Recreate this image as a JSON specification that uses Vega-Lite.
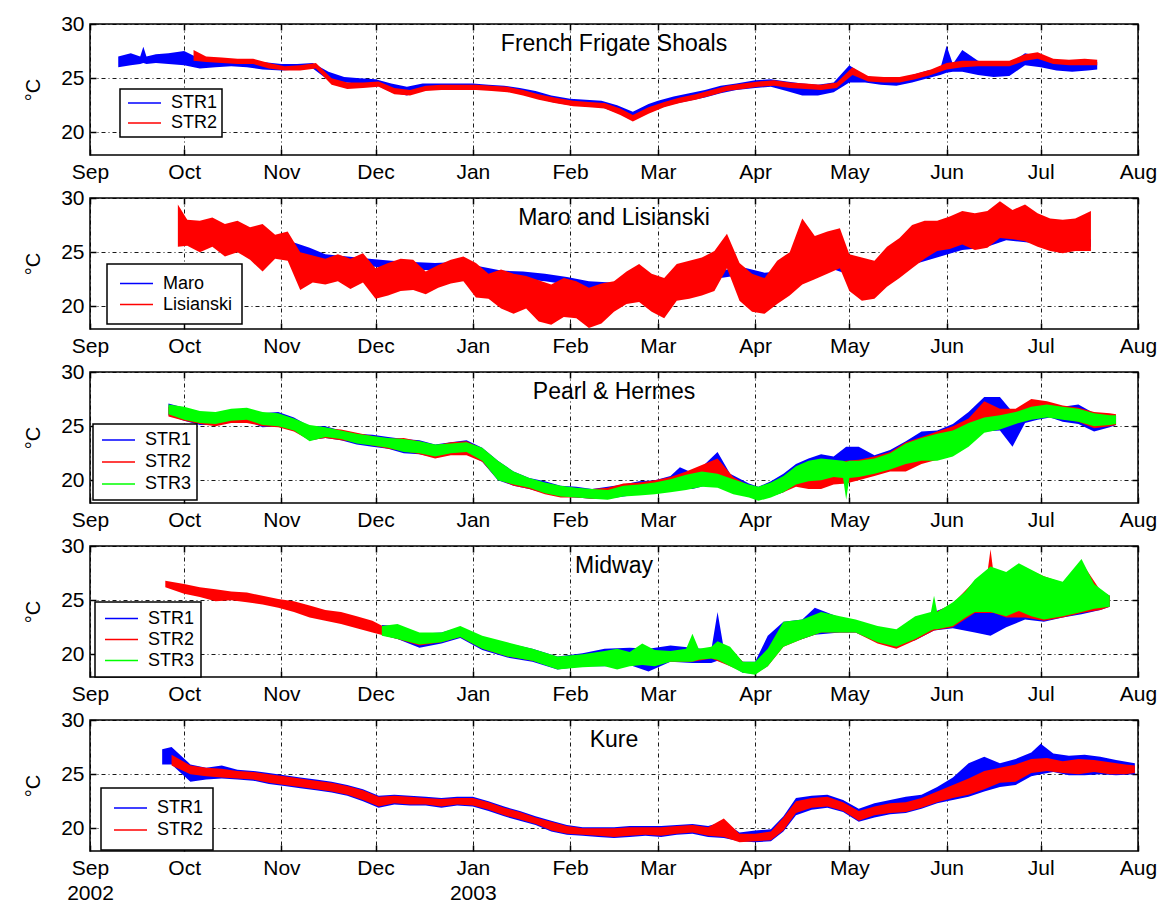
{
  "$schema": "https://vega.github.io/schema/vega-lite/v6.json",
  "padding": {"left": 22, "top": 12, "right": 5, "bottom": 5},
  "background": "white",
  "spacing": 43,
  "bounds": "flush",
  "resolve": {"scale": {"color": "independent"}, "legend": {"color": "independent"}},
  "datasets": {
    "ffs": [
      {"s":"STR1","d":"2002-09-10","lo":26.0,"hi":27.0},
      {"s":"STR1","d":"2002-09-14","lo":26.2,"hi":27.3},
      {"s":"STR1","d":"2002-09-17","lo":26.3,"hi":27.0},
      {"s":"STR1","d":"2002-09-18","lo":26.4,"hi":27.9},
      {"s":"STR1","d":"2002-09-19","lo":26.3,"hi":27.0},
      {"s":"STR1","d":"2002-09-22","lo":26.4,"hi":27.2},
      {"s":"STR1","d":"2002-09-26","lo":26.3,"hi":27.3},
      {"s":"STR1","d":"2002-10-01","lo":26.2,"hi":27.5},
      {"s":"STR1","d":"2002-10-06","lo":25.9,"hi":26.8},
      {"s":"STR1","d":"2002-10-11","lo":26.0,"hi":26.8},
      {"s":"STR1","d":"2002-10-16","lo":26.1,"hi":26.7},
      {"s":"STR1","d":"2002-10-21","lo":26.0,"hi":26.6},
      {"s":"STR1","d":"2002-10-26","lo":25.8,"hi":26.5},
      {"s":"STR1","d":"2002-11-01","lo":25.7,"hi":26.3},
      {"s":"STR1","d":"2002-11-06","lo":25.8,"hi":26.3},
      {"s":"STR1","d":"2002-11-11","lo":25.9,"hi":26.4},
      {"s":"STR1","d":"2002-11-16","lo":24.8,"hi":25.6},
      {"s":"STR1","d":"2002-11-21","lo":24.6,"hi":25.1},
      {"s":"STR1","d":"2002-11-26","lo":24.5,"hi":25.0},
      {"s":"STR1","d":"2002-12-01","lo":24.4,"hi":24.9},
      {"s":"STR1","d":"2002-12-06","lo":23.7,"hi":24.5},
      {"s":"STR1","d":"2002-12-11","lo":23.4,"hi":24.2},
      {"s":"STR1","d":"2002-12-16","lo":23.9,"hi":24.5},
      {"s":"STR1","d":"2002-12-21","lo":24.0,"hi":24.5},
      {"s":"STR1","d":"2002-12-26","lo":24.0,"hi":24.5},
      {"s":"STR1","d":"2003-01-01","lo":24.0,"hi":24.5},
      {"s":"STR1","d":"2003-01-06","lo":23.9,"hi":24.4},
      {"s":"STR1","d":"2003-01-11","lo":23.8,"hi":24.3},
      {"s":"STR1","d":"2003-01-16","lo":23.6,"hi":24.1},
      {"s":"STR1","d":"2003-01-21","lo":23.2,"hi":23.8},
      {"s":"STR1","d":"2003-01-26","lo":22.8,"hi":23.4},
      {"s":"STR1","d":"2003-02-01","lo":22.5,"hi":23.1},
      {"s":"STR1","d":"2003-02-06","lo":22.4,"hi":23.0},
      {"s":"STR1","d":"2003-02-11","lo":22.3,"hi":22.9},
      {"s":"STR1","d":"2003-02-16","lo":21.8,"hi":22.5},
      {"s":"STR1","d":"2003-02-21","lo":21.2,"hi":21.9},
      {"s":"STR1","d":"2003-02-26","lo":21.8,"hi":22.6},
      {"s":"STR1","d":"2003-03-01","lo":22.2,"hi":22.9},
      {"s":"STR1","d":"2003-03-06","lo":22.6,"hi":23.3},
      {"s":"STR1","d":"2003-03-11","lo":22.9,"hi":23.6},
      {"s":"STR1","d":"2003-03-16","lo":23.2,"hi":23.9},
      {"s":"STR1","d":"2003-03-21","lo":23.6,"hi":24.3},
      {"s":"STR1","d":"2003-03-26","lo":23.9,"hi":24.5},
      {"s":"STR1","d":"2003-04-01","lo":24.1,"hi":24.8},
      {"s":"STR1","d":"2003-04-06","lo":24.2,"hi":24.9},
      {"s":"STR1","d":"2003-04-11","lo":23.8,"hi":24.7},
      {"s":"STR1","d":"2003-04-16","lo":23.4,"hi":24.5},
      {"s":"STR1","d":"2003-04-21","lo":23.4,"hi":24.4},
      {"s":"STR1","d":"2003-04-26","lo":23.7,"hi":24.6},
      {"s":"STR1","d":"2003-05-01","lo":24.6,"hi":26.2},
      {"s":"STR1","d":"2003-05-06","lo":24.6,"hi":25.2},
      {"s":"STR1","d":"2003-05-11","lo":24.4,"hi":25.0},
      {"s":"STR1","d":"2003-05-16","lo":24.3,"hi":24.9},
      {"s":"STR1","d":"2003-05-21","lo":24.6,"hi":25.3},
      {"s":"STR1","d":"2003-05-26","lo":25.0,"hi":25.7},
      {"s":"STR1","d":"2003-05-30","lo":25.3,"hi":25.9},
      {"s":"STR1","d":"2003-06-01","lo":25.5,"hi":28.0},
      {"s":"STR1","d":"2003-06-03","lo":25.6,"hi":26.3},
      {"s":"STR1","d":"2003-06-06","lo":25.6,"hi":27.6},
      {"s":"STR1","d":"2003-06-11","lo":25.3,"hi":26.6},
      {"s":"STR1","d":"2003-06-16","lo":25.1,"hi":26.3},
      {"s":"STR1","d":"2003-06-21","lo":25.2,"hi":26.3},
      {"s":"STR1","d":"2003-06-26","lo":26.2,"hi":27.3},
      {"s":"STR1","d":"2003-07-01","lo":26.0,"hi":27.0},
      {"s":"STR1","d":"2003-07-06","lo":25.7,"hi":26.5},
      {"s":"STR1","d":"2003-07-11","lo":25.6,"hi":26.6},
      {"s":"STR1","d":"2003-07-16","lo":25.7,"hi":26.6},
      {"s":"STR1","d":"2003-07-19","lo":25.8,"hi":26.5},
      {"s":"STR2","d":"2002-10-04","lo":26.6,"hi":27.6},
      {"s":"STR2","d":"2002-10-08","lo":26.5,"hi":27.0},
      {"s":"STR2","d":"2002-10-13","lo":26.4,"hi":26.9},
      {"s":"STR2","d":"2002-10-18","lo":26.3,"hi":26.8},
      {"s":"STR2","d":"2002-10-23","lo":26.3,"hi":26.8},
      {"s":"STR2","d":"2002-10-28","lo":25.9,"hi":26.4},
      {"s":"STR2","d":"2002-11-02","lo":25.7,"hi":26.1},
      {"s":"STR2","d":"2002-11-07","lo":25.7,"hi":26.2},
      {"s":"STR2","d":"2002-11-12","lo":25.9,"hi":26.4},
      {"s":"STR2","d":"2002-11-17","lo":24.4,"hi":25.0},
      {"s":"STR2","d":"2002-11-22","lo":24.0,"hi":24.6},
      {"s":"STR2","d":"2002-11-27","lo":24.1,"hi":24.6},
      {"s":"STR2","d":"2002-12-02","lo":24.2,"hi":24.7},
      {"s":"STR2","d":"2002-12-07","lo":23.5,"hi":24.1},
      {"s":"STR2","d":"2002-12-12","lo":23.4,"hi":23.9},
      {"s":"STR2","d":"2002-12-17","lo":23.8,"hi":24.3},
      {"s":"STR2","d":"2002-12-22","lo":23.9,"hi":24.4},
      {"s":"STR2","d":"2002-12-27","lo":23.9,"hi":24.4},
      {"s":"STR2","d":"2003-01-02","lo":23.9,"hi":24.4},
      {"s":"STR2","d":"2003-01-07","lo":23.8,"hi":24.3},
      {"s":"STR2","d":"2003-01-12","lo":23.7,"hi":24.2},
      {"s":"STR2","d":"2003-01-17","lo":23.4,"hi":23.9},
      {"s":"STR2","d":"2003-01-22","lo":23.0,"hi":23.5},
      {"s":"STR2","d":"2003-01-27","lo":22.7,"hi":23.2},
      {"s":"STR2","d":"2003-02-02","lo":22.4,"hi":22.9},
      {"s":"STR2","d":"2003-02-07","lo":22.3,"hi":22.8},
      {"s":"STR2","d":"2003-02-12","lo":22.2,"hi":22.7},
      {"s":"STR2","d":"2003-02-17","lo":21.6,"hi":22.2},
      {"s":"STR2","d":"2003-02-21","lo":21.0,"hi":21.6},
      {"s":"STR2","d":"2003-02-26","lo":21.7,"hi":22.3},
      {"s":"STR2","d":"2003-03-03","lo":22.3,"hi":22.8},
      {"s":"STR2","d":"2003-03-08","lo":22.7,"hi":23.2},
      {"s":"STR2","d":"2003-03-13","lo":23.0,"hi":23.5},
      {"s":"STR2","d":"2003-03-18","lo":23.4,"hi":23.9},
      {"s":"STR2","d":"2003-03-23","lo":23.8,"hi":24.3},
      {"s":"STR2","d":"2003-03-28","lo":24.0,"hi":24.5},
      {"s":"STR2","d":"2003-04-02","lo":24.2,"hi":24.7},
      {"s":"STR2","d":"2003-04-07","lo":24.3,"hi":24.8},
      {"s":"STR2","d":"2003-04-12","lo":24.1,"hi":24.6},
      {"s":"STR2","d":"2003-04-17","lo":24.0,"hi":24.5},
      {"s":"STR2","d":"2003-04-22","lo":23.9,"hi":24.4},
      {"s":"STR2","d":"2003-04-27","lo":24.1,"hi":24.6},
      {"s":"STR2","d":"2003-05-02","lo":25.3,"hi":26.0},
      {"s":"STR2","d":"2003-05-07","lo":24.7,"hi":25.2},
      {"s":"STR2","d":"2003-05-12","lo":24.6,"hi":25.1},
      {"s":"STR2","d":"2003-05-17","lo":24.6,"hi":25.1},
      {"s":"STR2","d":"2003-05-22","lo":24.9,"hi":25.4},
      {"s":"STR2","d":"2003-05-27","lo":25.3,"hi":25.8},
      {"s":"STR2","d":"2003-06-01","lo":25.8,"hi":26.4},
      {"s":"STR2","d":"2003-06-06","lo":26.0,"hi":26.6},
      {"s":"STR2","d":"2003-06-11","lo":26.1,"hi":26.6},
      {"s":"STR2","d":"2003-06-16","lo":26.1,"hi":26.6},
      {"s":"STR2","d":"2003-06-21","lo":26.1,"hi":26.6},
      {"s":"STR2","d":"2003-06-26","lo":26.6,"hi":27.2},
      {"s":"STR2","d":"2003-06-30","lo":26.8,"hi":27.4},
      {"s":"STR2","d":"2003-07-05","lo":26.3,"hi":26.8},
      {"s":"STR2","d":"2003-07-10","lo":26.2,"hi":26.7},
      {"s":"STR2","d":"2003-07-15","lo":26.2,"hi":26.8},
      {"s":"STR2","d":"2003-07-19","lo":26.2,"hi":26.7}
    ],
    "mal": [
      {"s":"Maro","d":"2002-10-01","lo":26.8,"hi":27.6},
      {"s":"Maro","d":"2002-10-08","lo":26.6,"hi":27.3},
      {"s":"Maro","d":"2002-10-15","lo":26.2,"hi":27.0},
      {"s":"Maro","d":"2002-10-22","lo":25.9,"hi":26.7},
      {"s":"Maro","d":"2002-10-29","lo":25.6,"hi":26.4},
      {"s":"Maro","d":"2002-11-05","lo":25.2,"hi":25.9},
      {"s":"Maro","d":"2002-11-10","lo":24.6,"hi":25.4},
      {"s":"Maro","d":"2002-11-15","lo":24.0,"hi":24.8},
      {"s":"Maro","d":"2002-11-22","lo":23.9,"hi":24.6},
      {"s":"Maro","d":"2002-11-29","lo":23.7,"hi":24.4},
      {"s":"Maro","d":"2002-12-06","lo":23.5,"hi":24.2},
      {"s":"Maro","d":"2002-12-13","lo":23.4,"hi":24.1},
      {"s":"Maro","d":"2002-12-20","lo":23.3,"hi":24.0},
      {"s":"Maro","d":"2002-12-27","lo":23.4,"hi":24.1},
      {"s":"Maro","d":"2003-01-03","lo":23.0,"hi":23.7},
      {"s":"Maro","d":"2003-01-10","lo":22.6,"hi":23.3},
      {"s":"Maro","d":"2003-01-17","lo":22.5,"hi":23.2},
      {"s":"Maro","d":"2003-01-24","lo":22.3,"hi":23.0},
      {"s":"Maro","d":"2003-01-31","lo":22.0,"hi":22.7},
      {"s":"Maro","d":"2003-02-07","lo":21.6,"hi":22.3},
      {"s":"Maro","d":"2003-02-14","lo":21.5,"hi":22.2},
      {"s":"Maro","d":"2003-02-21","lo":21.7,"hi":22.5},
      {"s":"Maro","d":"2003-02-28","lo":21.9,"hi":22.6},
      {"s":"Maro","d":"2003-03-07","lo":21.9,"hi":22.6},
      {"s":"Maro","d":"2003-03-14","lo":22.1,"hi":22.8},
      {"s":"Maro","d":"2003-03-21","lo":22.6,"hi":23.3},
      {"s":"Maro","d":"2003-03-28","lo":22.9,"hi":23.6},
      {"s":"Maro","d":"2003-04-04","lo":22.4,"hi":23.1},
      {"s":"Maro","d":"2003-04-11","lo":22.6,"hi":23.3},
      {"s":"Maro","d":"2003-04-18","lo":23.0,"hi":23.7},
      {"s":"Maro","d":"2003-04-25","lo":23.5,"hi":24.2},
      {"s":"Maro","d":"2003-05-02","lo":22.8,"hi":23.5},
      {"s":"Maro","d":"2003-05-09","lo":22.6,"hi":23.3},
      {"s":"Maro","d":"2003-05-16","lo":23.3,"hi":24.0},
      {"s":"Maro","d":"2003-05-23","lo":24.0,"hi":24.7},
      {"s":"Maro","d":"2003-05-30","lo":24.6,"hi":25.3},
      {"s":"Maro","d":"2003-06-06","lo":25.2,"hi":25.9},
      {"s":"Maro","d":"2003-06-13","lo":25.4,"hi":26.1},
      {"s":"Maro","d":"2003-06-20","lo":26.1,"hi":26.9},
      {"s":"Maro","d":"2003-06-27","lo":25.9,"hi":26.6},
      {"s":"Maro","d":"2003-07-04","lo":25.6,"hi":26.3},
      {"s":"Maro","d":"2003-07-11","lo":25.5,"hi":26.2},
      {"s":"Maro","d":"2003-07-17","lo":25.5,"hi":26.2},
      {"s":"Lisianski","d":"2002-09-29","lo":25.5,"hi":29.4},
      {"s":"Lisianski","d":"2002-10-02","lo":25.6,"hi":28.0},
      {"s":"Lisianski","d":"2002-10-06","lo":25.0,"hi":27.9},
      {"s":"Lisianski","d":"2002-10-10","lo":25.5,"hi":28.2},
      {"s":"Lisianski","d":"2002-10-14","lo":24.6,"hi":27.6},
      {"s":"Lisianski","d":"2002-10-18","lo":25.0,"hi":27.9},
      {"s":"Lisianski","d":"2002-10-22","lo":24.3,"hi":27.3},
      {"s":"Lisianski","d":"2002-10-26","lo":23.2,"hi":27.6},
      {"s":"Lisianski","d":"2002-10-30","lo":24.4,"hi":26.6},
      {"s":"Lisianski","d":"2002-11-03","lo":24.2,"hi":26.9},
      {"s":"Lisianski","d":"2002-11-07","lo":21.5,"hi":25.0},
      {"s":"Lisianski","d":"2002-11-11","lo":22.2,"hi":24.7},
      {"s":"Lisianski","d":"2002-11-15","lo":22.0,"hi":24.4},
      {"s":"Lisianski","d":"2002-11-19","lo":22.3,"hi":24.8},
      {"s":"Lisianski","d":"2002-11-23","lo":21.6,"hi":24.4},
      {"s":"Lisianski","d":"2002-11-27","lo":22.2,"hi":24.9},
      {"s":"Lisianski","d":"2002-12-01","lo":20.7,"hi":23.5},
      {"s":"Lisianski","d":"2002-12-05","lo":21.0,"hi":24.0},
      {"s":"Lisianski","d":"2002-12-09","lo":21.4,"hi":24.4},
      {"s":"Lisianski","d":"2002-12-13","lo":21.5,"hi":24.3},
      {"s":"Lisianski","d":"2002-12-17","lo":21.1,"hi":23.2},
      {"s":"Lisianski","d":"2002-12-21","lo":21.7,"hi":23.8},
      {"s":"Lisianski","d":"2002-12-25","lo":22.1,"hi":24.3},
      {"s":"Lisianski","d":"2002-12-29","lo":22.3,"hi":24.6},
      {"s":"Lisianski","d":"2003-01-02","lo":20.8,"hi":24.0},
      {"s":"Lisianski","d":"2003-01-06","lo":20.7,"hi":23.0},
      {"s":"Lisianski","d":"2003-01-10","lo":19.8,"hi":23.4},
      {"s":"Lisianski","d":"2003-01-14","lo":19.3,"hi":23.0},
      {"s":"Lisianski","d":"2003-01-18","lo":19.8,"hi":22.8},
      {"s":"Lisianski","d":"2003-01-22","lo":18.6,"hi":22.4},
      {"s":"Lisianski","d":"2003-01-26","lo":18.3,"hi":22.0},
      {"s":"Lisianski","d":"2003-01-30","lo":19.0,"hi":22.6},
      {"s":"Lisianski","d":"2003-02-03","lo":18.9,"hi":22.3},
      {"s":"Lisianski","d":"2003-02-07","lo":18.0,"hi":21.7},
      {"s":"Lisianski","d":"2003-02-11","lo":18.4,"hi":22.1},
      {"s":"Lisianski","d":"2003-02-15","lo":19.5,"hi":22.3},
      {"s":"Lisianski","d":"2003-02-19","lo":20.2,"hi":23.2},
      {"s":"Lisianski","d":"2003-02-23","lo":20.4,"hi":23.9},
      {"s":"Lisianski","d":"2003-02-27","lo":19.5,"hi":23.0},
      {"s":"Lisianski","d":"2003-03-03","lo":18.9,"hi":22.6},
      {"s":"Lisianski","d":"2003-03-07","lo":20.5,"hi":23.9},
      {"s":"Lisianski","d":"2003-03-11","lo":20.7,"hi":24.2},
      {"s":"Lisianski","d":"2003-03-15","lo":21.0,"hi":24.5},
      {"s":"Lisianski","d":"2003-03-19","lo":21.4,"hi":25.1},
      {"s":"Lisianski","d":"2003-03-23","lo":23.5,"hi":26.7},
      {"s":"Lisianski","d":"2003-03-27","lo":20.5,"hi":24.0},
      {"s":"Lisianski","d":"2003-03-31","lo":19.5,"hi":23.0},
      {"s":"Lisianski","d":"2003-04-04","lo":19.3,"hi":22.6},
      {"s":"Lisianski","d":"2003-04-08","lo":20.2,"hi":24.2},
      {"s":"Lisianski","d":"2003-04-12","lo":21.0,"hi":25.0},
      {"s":"Lisianski","d":"2003-04-16","lo":22.0,"hi":28.1},
      {"s":"Lisianski","d":"2003-04-20","lo":22.5,"hi":26.5},
      {"s":"Lisianski","d":"2003-04-24","lo":23.0,"hi":26.9},
      {"s":"Lisianski","d":"2003-04-28","lo":23.5,"hi":27.2},
      {"s":"Lisianski","d":"2003-05-01","lo":21.4,"hi":24.8},
      {"s":"Lisianski","d":"2003-05-05","lo":20.5,"hi":24.5},
      {"s":"Lisianski","d":"2003-05-09","lo":20.7,"hi":24.2},
      {"s":"Lisianski","d":"2003-05-13","lo":21.8,"hi":25.5},
      {"s":"Lisianski","d":"2003-05-17","lo":22.6,"hi":26.3},
      {"s":"Lisianski","d":"2003-05-21","lo":23.5,"hi":27.5},
      {"s":"Lisianski","d":"2003-05-25","lo":24.4,"hi":27.9},
      {"s":"Lisianski","d":"2003-05-29","lo":25.1,"hi":27.9},
      {"s":"Lisianski","d":"2003-06-02","lo":25.3,"hi":28.3},
      {"s":"Lisianski","d":"2003-06-06","lo":25.7,"hi":28.8},
      {"s":"Lisianski","d":"2003-06-10","lo":25.2,"hi":28.6},
      {"s":"Lisianski","d":"2003-06-14","lo":25.4,"hi":28.8},
      {"s":"Lisianski","d":"2003-06-18","lo":26.3,"hi":29.7},
      {"s":"Lisianski","d":"2003-06-22","lo":26.2,"hi":28.9},
      {"s":"Lisianski","d":"2003-06-26","lo":26.0,"hi":29.4},
      {"s":"Lisianski","d":"2003-06-30","lo":25.5,"hi":28.6},
      {"s":"Lisianski","d":"2003-07-04","lo":25.1,"hi":28.1},
      {"s":"Lisianski","d":"2003-07-08","lo":24.9,"hi":28.0},
      {"s":"Lisianski","d":"2003-07-12","lo":25.1,"hi":28.1},
      {"s":"Lisianski","d":"2003-07-17","lo":25.1,"hi":28.8}
    ],
    "ph": [
      {"s":"STR1","d":"2002-09-26","lo":26.0,"hi":27.1},
      {"s":"STR1","d":"2002-10-01","lo":25.5,"hi":26.7},
      {"s":"STR1","d":"2002-10-06","lo":25.1,"hi":26.3},
      {"s":"STR1","d":"2002-10-11","lo":25.1,"hi":26.2},
      {"s":"STR1","d":"2002-10-16","lo":25.4,"hi":26.5},
      {"s":"STR1","d":"2002-10-21","lo":25.5,"hi":26.6},
      {"s":"STR1","d":"2002-10-26","lo":24.9,"hi":26.2},
      {"s":"STR1","d":"2002-10-31","lo":25.0,"hi":26.3},
      {"s":"STR1","d":"2002-11-05","lo":24.6,"hi":25.8},
      {"s":"STR1","d":"2002-11-10","lo":23.7,"hi":25.0},
      {"s":"STR1","d":"2002-11-15","lo":23.9,"hi":25.0},
      {"s":"STR1","d":"2002-11-20","lo":23.7,"hi":24.6},
      {"s":"STR1","d":"2002-11-25","lo":23.3,"hi":24.3},
      {"s":"STR1","d":"2002-11-30","lo":23.1,"hi":24.2},
      {"s":"STR1","d":"2002-12-05","lo":22.9,"hi":24.0},
      {"s":"STR1","d":"2002-12-10","lo":22.5,"hi":23.8},
      {"s":"STR1","d":"2002-12-15","lo":22.4,"hi":23.7},
      {"s":"STR1","d":"2002-12-20","lo":22.1,"hi":23.3},
      {"s":"STR1","d":"2002-12-25","lo":22.4,"hi":23.5},
      {"s":"STR1","d":"2002-12-30","lo":22.5,"hi":23.7},
      {"s":"STR1","d":"2003-01-04","lo":21.7,"hi":23.0},
      {"s":"STR1","d":"2003-01-09","lo":20.0,"hi":21.8},
      {"s":"STR1","d":"2003-01-14","lo":19.5,"hi":20.8},
      {"s":"STR1","d":"2003-01-19","lo":19.2,"hi":20.2},
      {"s":"STR1","d":"2003-01-24","lo":18.8,"hi":19.9},
      {"s":"STR1","d":"2003-01-29","lo":18.5,"hi":19.5},
      {"s":"STR1","d":"2003-02-03","lo":18.4,"hi":19.4},
      {"s":"STR1","d":"2003-02-08","lo":18.3,"hi":19.2},
      {"s":"STR1","d":"2003-02-13","lo":18.3,"hi":19.4},
      {"s":"STR1","d":"2003-02-18","lo":18.5,"hi":19.6},
      {"s":"STR1","d":"2003-02-23","lo":18.7,"hi":19.9},
      {"s":"STR1","d":"2003-02-28","lo":18.8,"hi":20.0},
      {"s":"STR1","d":"2003-03-05","lo":19.0,"hi":20.4},
      {"s":"STR1","d":"2003-03-08","lo":19.2,"hi":21.2},
      {"s":"STR1","d":"2003-03-12","lo":19.2,"hi":20.7},
      {"s":"STR1","d":"2003-03-16","lo":19.5,"hi":21.5},
      {"s":"STR1","d":"2003-03-20","lo":19.8,"hi":22.6},
      {"s":"STR1","d":"2003-03-24","lo":19.0,"hi":20.6},
      {"s":"STR1","d":"2003-03-30","lo":18.5,"hi":19.7},
      {"s":"STR1","d":"2003-04-02","lo":18.2,"hi":19.4},
      {"s":"STR1","d":"2003-04-06","lo":18.5,"hi":19.9},
      {"s":"STR1","d":"2003-04-10","lo":18.9,"hi":20.6},
      {"s":"STR1","d":"2003-04-14","lo":19.7,"hi":21.5},
      {"s":"STR1","d":"2003-04-18","lo":20.0,"hi":22.0},
      {"s":"STR1","d":"2003-04-22","lo":20.1,"hi":22.4},
      {"s":"STR1","d":"2003-04-26","lo":20.4,"hi":22.2},
      {"s":"STR1","d":"2003-04-30","lo":20.5,"hi":23.1},
      {"s":"STR1","d":"2003-05-04","lo":20.5,"hi":23.1},
      {"s":"STR1","d":"2003-05-09","lo":20.7,"hi":22.3},
      {"s":"STR1","d":"2003-05-14","lo":21.1,"hi":22.8},
      {"s":"STR1","d":"2003-05-19","lo":21.6,"hi":23.6},
      {"s":"STR1","d":"2003-05-24","lo":22.0,"hi":24.5},
      {"s":"STR1","d":"2003-05-29","lo":22.0,"hi":24.6},
      {"s":"STR1","d":"2003-06-03","lo":22.3,"hi":25.2},
      {"s":"STR1","d":"2003-06-08","lo":23.2,"hi":26.3},
      {"s":"STR1","d":"2003-06-13","lo":24.5,"hi":27.7},
      {"s":"STR1","d":"2003-06-18","lo":24.6,"hi":27.7},
      {"s":"STR1","d":"2003-06-22","lo":23.1,"hi":26.3},
      {"s":"STR1","d":"2003-06-26","lo":25.3,"hi":26.7},
      {"s":"STR1","d":"2003-06-30","lo":25.6,"hi":27.1},
      {"s":"STR1","d":"2003-07-04","lo":25.8,"hi":26.9},
      {"s":"STR1","d":"2003-07-08","lo":25.4,"hi":26.8},
      {"s":"STR1","d":"2003-07-13","lo":25.2,"hi":27.0},
      {"s":"STR1","d":"2003-07-18","lo":24.5,"hi":26.2},
      {"s":"STR1","d":"2003-07-23","lo":24.9,"hi":26.0},
      {"s":"STR1","d":"2003-07-25","lo":25.1,"hi":26.0},
      {"s":"STR2","d":"2002-09-26","lo":25.9,"hi":26.8},
      {"s":"STR2","d":"2002-10-01","lo":25.5,"hi":26.6},
      {"s":"STR2","d":"2002-10-06","lo":25.2,"hi":26.2},
      {"s":"STR2","d":"2002-10-11","lo":25.0,"hi":26.0},
      {"s":"STR2","d":"2002-10-16","lo":25.3,"hi":26.4},
      {"s":"STR2","d":"2002-10-21","lo":25.3,"hi":26.5},
      {"s":"STR2","d":"2002-10-26","lo":25.0,"hi":26.0},
      {"s":"STR2","d":"2002-10-31","lo":24.9,"hi":26.1},
      {"s":"STR2","d":"2002-11-05","lo":24.5,"hi":25.6},
      {"s":"STR2","d":"2002-11-10","lo":23.7,"hi":25.0},
      {"s":"STR2","d":"2002-11-15","lo":23.9,"hi":24.8},
      {"s":"STR2","d":"2002-11-20","lo":23.7,"hi":24.7},
      {"s":"STR2","d":"2002-11-25","lo":23.5,"hi":24.4},
      {"s":"STR2","d":"2002-11-30","lo":23.2,"hi":24.1},
      {"s":"STR2","d":"2002-12-05","lo":22.9,"hi":23.8},
      {"s":"STR2","d":"2002-12-10","lo":22.7,"hi":23.9},
      {"s":"STR2","d":"2002-12-15","lo":22.4,"hi":23.6},
      {"s":"STR2","d":"2002-12-20","lo":22.0,"hi":23.2},
      {"s":"STR2","d":"2002-12-25","lo":22.3,"hi":23.5},
      {"s":"STR2","d":"2002-12-30","lo":22.3,"hi":23.6},
      {"s":"STR2","d":"2003-01-04","lo":21.7,"hi":22.9},
      {"s":"STR2","d":"2003-01-09","lo":20.1,"hi":21.7},
      {"s":"STR2","d":"2003-01-14","lo":19.5,"hi":20.7},
      {"s":"STR2","d":"2003-01-19","lo":19.2,"hi":20.1},
      {"s":"STR2","d":"2003-01-24","lo":18.7,"hi":19.7},
      {"s":"STR2","d":"2003-01-29","lo":18.4,"hi":19.4},
      {"s":"STR2","d":"2003-02-03","lo":18.4,"hi":19.2},
      {"s":"STR2","d":"2003-02-08","lo":18.3,"hi":19.2},
      {"s":"STR2","d":"2003-02-13","lo":18.3,"hi":19.3},
      {"s":"STR2","d":"2003-02-18","lo":18.6,"hi":19.7},
      {"s":"STR2","d":"2003-02-23","lo":18.7,"hi":19.8},
      {"s":"STR2","d":"2003-02-28","lo":18.8,"hi":20.0},
      {"s":"STR2","d":"2003-03-05","lo":19.0,"hi":20.3},
      {"s":"STR2","d":"2003-03-10","lo":19.2,"hi":20.8},
      {"s":"STR2","d":"2003-03-15","lo":19.5,"hi":21.4},
      {"s":"STR2","d":"2003-03-20","lo":19.6,"hi":22.0},
      {"s":"STR2","d":"2003-03-25","lo":19.0,"hi":20.3},
      {"s":"STR2","d":"2003-03-30","lo":18.5,"hi":19.5},
      {"s":"STR2","d":"2003-04-02","lo":18.3,"hi":19.3},
      {"s":"STR2","d":"2003-04-06","lo":18.5,"hi":19.7},
      {"s":"STR2","d":"2003-04-10","lo":18.9,"hi":20.2},
      {"s":"STR2","d":"2003-04-14","lo":19.4,"hi":21.0},
      {"s":"STR2","d":"2003-04-18","lo":19.2,"hi":21.2},
      {"s":"STR2","d":"2003-04-22","lo":19.2,"hi":21.5},
      {"s":"STR2","d":"2003-04-26","lo":19.6,"hi":21.6},
      {"s":"STR2","d":"2003-04-30","lo":19.7,"hi":21.8},
      {"s":"STR2","d":"2003-05-04","lo":20.0,"hi":21.9},
      {"s":"STR2","d":"2003-05-09","lo":20.4,"hi":22.2},
      {"s":"STR2","d":"2003-05-14","lo":20.8,"hi":22.6},
      {"s":"STR2","d":"2003-05-19","lo":20.8,"hi":23.5},
      {"s":"STR2","d":"2003-05-24","lo":21.5,"hi":24.0},
      {"s":"STR2","d":"2003-05-29","lo":21.9,"hi":24.5},
      {"s":"STR2","d":"2003-06-03","lo":22.5,"hi":25.0},
      {"s":"STR2","d":"2003-06-08","lo":23.5,"hi":25.7},
      {"s":"STR2","d":"2003-06-13","lo":24.7,"hi":27.3},
      {"s":"STR2","d":"2003-06-18","lo":25.0,"hi":26.6},
      {"s":"STR2","d":"2003-06-23","lo":25.3,"hi":26.6},
      {"s":"STR2","d":"2003-06-28","lo":25.7,"hi":27.5},
      {"s":"STR2","d":"2003-07-03","lo":25.9,"hi":27.3},
      {"s":"STR2","d":"2003-07-08","lo":25.7,"hi":26.9},
      {"s":"STR2","d":"2003-07-13","lo":25.4,"hi":26.7},
      {"s":"STR2","d":"2003-07-18","lo":24.8,"hi":26.3},
      {"s":"STR2","d":"2003-07-23","lo":25.0,"hi":26.2},
      {"s":"STR2","d":"2003-07-25","lo":25.1,"hi":26.1},
      {"s":"STR3","d":"2002-09-26","lo":26.1,"hi":27.0},
      {"s":"STR3","d":"2002-10-01","lo":25.6,"hi":26.8},
      {"s":"STR3","d":"2002-10-06","lo":25.3,"hi":26.4},
      {"s":"STR3","d":"2002-10-11","lo":25.2,"hi":26.3},
      {"s":"STR3","d":"2002-10-16","lo":25.5,"hi":26.6},
      {"s":"STR3","d":"2002-10-21","lo":25.6,"hi":26.7},
      {"s":"STR3","d":"2002-10-26","lo":25.1,"hi":26.3},
      {"s":"STR3","d":"2002-10-31","lo":25.0,"hi":26.2},
      {"s":"STR3","d":"2002-11-05","lo":24.6,"hi":25.7},
      {"s":"STR3","d":"2002-11-10","lo":23.6,"hi":25.1},
      {"s":"STR3","d":"2002-11-15","lo":24.0,"hi":24.9},
      {"s":"STR3","d":"2002-11-20","lo":23.8,"hi":24.6},
      {"s":"STR3","d":"2002-11-25","lo":23.4,"hi":24.3},
      {"s":"STR3","d":"2002-11-30","lo":23.2,"hi":24.1},
      {"s":"STR3","d":"2002-12-05","lo":23.0,"hi":23.9},
      {"s":"STR3","d":"2002-12-10","lo":22.6,"hi":23.8},
      {"s":"STR3","d":"2002-12-15","lo":22.5,"hi":23.6},
      {"s":"STR3","d":"2002-12-20","lo":22.2,"hi":23.3},
      {"s":"STR3","d":"2002-12-25","lo":22.5,"hi":23.4},
      {"s":"STR3","d":"2002-12-30","lo":22.6,"hi":23.5},
      {"s":"STR3","d":"2003-01-04","lo":21.8,"hi":23.0},
      {"s":"STR3","d":"2003-01-09","lo":20.0,"hi":21.8},
      {"s":"STR3","d":"2003-01-14","lo":19.6,"hi":20.8},
      {"s":"STR3","d":"2003-01-19","lo":19.3,"hi":20.2},
      {"s":"STR3","d":"2003-01-24","lo":18.8,"hi":19.8},
      {"s":"STR3","d":"2003-01-29","lo":18.5,"hi":19.5},
      {"s":"STR3","d":"2003-02-03","lo":18.4,"hi":19.3},
      {"s":"STR3","d":"2003-02-08","lo":18.3,"hi":19.2},
      {"s":"STR3","d":"2003-02-13","lo":18.2,"hi":19.1},
      {"s":"STR3","d":"2003-02-18","lo":18.5,"hi":19.5},
      {"s":"STR3","d":"2003-02-23","lo":18.6,"hi":19.6},
      {"s":"STR3","d":"2003-02-28","lo":18.7,"hi":19.8},
      {"s":"STR3","d":"2003-03-05","lo":18.9,"hi":20.1},
      {"s":"STR3","d":"2003-03-10","lo":19.1,"hi":20.5},
      {"s":"STR3","d":"2003-03-15","lo":19.4,"hi":20.8},
      {"s":"STR3","d":"2003-03-20","lo":19.3,"hi":20.6},
      {"s":"STR3","d":"2003-03-25","lo":18.7,"hi":20.1},
      {"s":"STR3","d":"2003-03-30","lo":18.4,"hi":19.6},
      {"s":"STR3","d":"2003-04-02","lo":18.1,"hi":19.4},
      {"s":"STR3","d":"2003-04-06","lo":18.4,"hi":19.8},
      {"s":"STR3","d":"2003-04-10","lo":18.9,"hi":20.4},
      {"s":"STR3","d":"2003-04-14","lo":19.6,"hi":21.3},
      {"s":"STR3","d":"2003-04-18","lo":19.9,"hi":21.8},
      {"s":"STR3","d":"2003-04-22","lo":20.0,"hi":22.0},
      {"s":"STR3","d":"2003-04-26","lo":20.3,"hi":21.9},
      {"s":"STR3","d":"2003-04-29","lo":20.2,"hi":21.8},
      {"s":"STR3","d":"2003-04-30","lo":18.2,"hi":21.7},
      {"s":"STR3","d":"2003-05-01","lo":20.2,"hi":21.8},
      {"s":"STR3","d":"2003-05-04","lo":20.3,"hi":21.8},
      {"s":"STR3","d":"2003-05-09","lo":20.6,"hi":22.0},
      {"s":"STR3","d":"2003-05-14","lo":21.0,"hi":22.5},
      {"s":"STR3","d":"2003-05-19","lo":21.5,"hi":23.4},
      {"s":"STR3","d":"2003-05-24","lo":21.8,"hi":23.9},
      {"s":"STR3","d":"2003-05-29","lo":21.8,"hi":24.3},
      {"s":"STR3","d":"2003-06-03","lo":22.2,"hi":24.6},
      {"s":"STR3","d":"2003-06-08","lo":23.1,"hi":25.3},
      {"s":"STR3","d":"2003-06-13","lo":24.4,"hi":25.8},
      {"s":"STR3","d":"2003-06-18","lo":24.7,"hi":26.0},
      {"s":"STR3","d":"2003-06-23","lo":25.2,"hi":26.3},
      {"s":"STR3","d":"2003-06-28","lo":25.6,"hi":26.8},
      {"s":"STR3","d":"2003-07-03","lo":25.8,"hi":27.0},
      {"s":"STR3","d":"2003-07-08","lo":25.6,"hi":26.8},
      {"s":"STR3","d":"2003-07-13","lo":25.4,"hi":26.6},
      {"s":"STR3","d":"2003-07-18","lo":25.0,"hi":26.2},
      {"s":"STR3","d":"2003-07-23","lo":25.1,"hi":26.0},
      {"s":"STR3","d":"2003-07-25","lo":25.2,"hi":26.0}
    ],
    "mid": [
      {"s":"STR1","d":"2002-12-03","lo":21.8,"hi":22.7},
      {"s":"STR1","d":"2002-12-08","lo":21.4,"hi":22.6},
      {"s":"STR1","d":"2002-12-15","lo":20.6,"hi":21.9},
      {"s":"STR1","d":"2002-12-22","lo":21.0,"hi":22.0},
      {"s":"STR1","d":"2002-12-28","lo":21.5,"hi":22.5},
      {"s":"STR1","d":"2003-01-04","lo":20.4,"hi":21.6},
      {"s":"STR1","d":"2003-01-12","lo":19.7,"hi":21.0},
      {"s":"STR1","d":"2003-01-20","lo":19.3,"hi":20.5},
      {"s":"STR1","d":"2003-01-28","lo":18.6,"hi":19.8},
      {"s":"STR1","d":"2003-02-05","lo":18.9,"hi":20.1},
      {"s":"STR1","d":"2003-02-12","lo":18.9,"hi":20.5},
      {"s":"STR1","d":"2003-02-20","lo":19.0,"hi":20.6},
      {"s":"STR1","d":"2003-02-26","lo":18.4,"hi":20.5},
      {"s":"STR1","d":"2003-03-05","lo":19.3,"hi":20.8},
      {"s":"STR1","d":"2003-03-12","lo":19.2,"hi":20.6},
      {"s":"STR1","d":"2003-03-18","lo":19.2,"hi":20.4},
      {"s":"STR1","d":"2003-03-20","lo":19.4,"hi":23.9},
      {"s":"STR1","d":"2003-03-22","lo":19.2,"hi":20.5},
      {"s":"STR1","d":"2003-03-24","lo":19.0,"hi":20.5},
      {"s":"STR1","d":"2003-03-28","lo":18.3,"hi":19.3},
      {"s":"STR1","d":"2003-04-01","lo":18.2,"hi":19.3},
      {"s":"STR1","d":"2003-04-05","lo":19.3,"hi":21.7},
      {"s":"STR1","d":"2003-04-10","lo":20.9,"hi":23.0},
      {"s":"STR1","d":"2003-04-16","lo":21.4,"hi":23.2},
      {"s":"STR1","d":"2003-04-20","lo":21.8,"hi":24.3},
      {"s":"STR1","d":"2003-04-28","lo":22.0,"hi":23.4},
      {"s":"STR1","d":"2003-05-03","lo":22.0,"hi":23.1},
      {"s":"STR1","d":"2003-05-10","lo":21.1,"hi":22.5},
      {"s":"STR1","d":"2003-05-16","lo":20.8,"hi":22.2},
      {"s":"STR1","d":"2003-05-22","lo":21.3,"hi":23.4},
      {"s":"STR1","d":"2003-05-28","lo":22.2,"hi":23.9},
      {"s":"STR1","d":"2003-06-03","lo":22.4,"hi":24.6},
      {"s":"STR1","d":"2003-06-10","lo":22.0,"hi":26.0},
      {"s":"STR1","d":"2003-06-15","lo":21.7,"hi":26.5},
      {"s":"STR1","d":"2003-06-20","lo":22.5,"hi":26.8},
      {"s":"STR1","d":"2003-06-26","lo":23.2,"hi":27.5},
      {"s":"STR1","d":"2003-07-02","lo":23.0,"hi":26.8},
      {"s":"STR1","d":"2003-07-08","lo":23.4,"hi":26.4},
      {"s":"STR1","d":"2003-07-14","lo":23.7,"hi":27.0},
      {"s":"STR1","d":"2003-07-20","lo":24.1,"hi":25.8},
      {"s":"STR1","d":"2003-07-23","lo":24.4,"hi":25.4},
      {"s":"STR2","d":"2002-09-25","lo":26.2,"hi":26.8},
      {"s":"STR2","d":"2002-10-01","lo":25.6,"hi":26.5},
      {"s":"STR2","d":"2002-10-06","lo":25.3,"hi":26.2},
      {"s":"STR2","d":"2002-10-11","lo":24.9,"hi":26.0},
      {"s":"STR2","d":"2002-10-16","lo":25.0,"hi":25.8},
      {"s":"STR2","d":"2002-10-21","lo":24.8,"hi":25.7},
      {"s":"STR2","d":"2002-10-26","lo":24.6,"hi":25.4},
      {"s":"STR2","d":"2002-10-31","lo":24.3,"hi":25.1},
      {"s":"STR2","d":"2002-11-05","lo":23.9,"hi":24.9},
      {"s":"STR2","d":"2002-11-10","lo":23.4,"hi":24.5},
      {"s":"STR2","d":"2002-11-15","lo":23.1,"hi":24.1},
      {"s":"STR2","d":"2002-11-20","lo":22.8,"hi":23.9},
      {"s":"STR2","d":"2002-11-25","lo":22.4,"hi":23.5},
      {"s":"STR2","d":"2002-11-30","lo":22.0,"hi":23.1},
      {"s":"STR2","d":"2002-12-04","lo":21.7,"hi":22.5},
      {"s":"STR2","d":"2002-12-08","lo":21.4,"hi":22.7},
      {"s":"STR2","d":"2002-12-15","lo":20.8,"hi":21.9},
      {"s":"STR2","d":"2002-12-22","lo":21.1,"hi":21.9},
      {"s":"STR2","d":"2002-12-28","lo":21.6,"hi":22.5},
      {"s":"STR2","d":"2003-01-04","lo":20.5,"hi":21.6},
      {"s":"STR2","d":"2003-01-12","lo":19.8,"hi":21.0},
      {"s":"STR2","d":"2003-01-20","lo":19.4,"hi":20.4},
      {"s":"STR2","d":"2003-01-28","lo":18.7,"hi":19.7},
      {"s":"STR2","d":"2003-02-05","lo":18.9,"hi":19.9},
      {"s":"STR2","d":"2003-02-12","lo":19.0,"hi":20.2},
      {"s":"STR2","d":"2003-02-20","lo":19.0,"hi":20.1},
      {"s":"STR2","d":"2003-02-26","lo":19.0,"hi":20.3},
      {"s":"STR2","d":"2003-03-05","lo":19.3,"hi":20.2},
      {"s":"STR2","d":"2003-03-12","lo":19.3,"hi":20.4},
      {"s":"STR2","d":"2003-03-18","lo":19.6,"hi":20.6},
      {"s":"STR2","d":"2003-03-24","lo":18.9,"hi":20.6},
      {"s":"STR2","d":"2003-03-28","lo":18.4,"hi":19.3},
      {"s":"STR2","d":"2003-04-01","lo":18.2,"hi":19.2},
      {"s":"STR2","d":"2003-04-05","lo":18.9,"hi":20.4},
      {"s":"STR2","d":"2003-04-10","lo":20.7,"hi":22.9},
      {"s":"STR2","d":"2003-04-16","lo":21.4,"hi":23.1},
      {"s":"STR2","d":"2003-04-22","lo":22.0,"hi":23.8},
      {"s":"STR2","d":"2003-04-28","lo":22.0,"hi":23.4},
      {"s":"STR2","d":"2003-05-03","lo":22.0,"hi":23.1},
      {"s":"STR2","d":"2003-05-10","lo":21.0,"hi":22.5},
      {"s":"STR2","d":"2003-05-16","lo":20.5,"hi":22.2},
      {"s":"STR2","d":"2003-05-22","lo":21.3,"hi":23.4},
      {"s":"STR2","d":"2003-05-28","lo":22.2,"hi":23.8},
      {"s":"STR2","d":"2003-06-03","lo":22.5,"hi":24.7},
      {"s":"STR2","d":"2003-06-10","lo":23.8,"hi":26.8},
      {"s":"STR2","d":"2003-06-14","lo":23.8,"hi":27.5},
      {"s":"STR2","d":"2003-06-15","lo":23.8,"hi":29.7},
      {"s":"STR2","d":"2003-06-16","lo":23.8,"hi":27.4},
      {"s":"STR2","d":"2003-06-20","lo":23.4,"hi":27.5},
      {"s":"STR2","d":"2003-06-26","lo":23.4,"hi":28.0},
      {"s":"STR2","d":"2003-07-02","lo":23.1,"hi":27.2},
      {"s":"STR2","d":"2003-07-08","lo":23.4,"hi":26.6},
      {"s":"STR2","d":"2003-07-14","lo":23.8,"hi":28.5},
      {"s":"STR2","d":"2003-07-20","lo":24.1,"hi":25.9},
      {"s":"STR2","d":"2003-07-23","lo":24.4,"hi":25.4},
      {"s":"STR3","d":"2002-12-03","lo":21.7,"hi":22.6},
      {"s":"STR3","d":"2002-12-08","lo":21.4,"hi":22.8},
      {"s":"STR3","d":"2002-12-15","lo":20.9,"hi":22.0},
      {"s":"STR3","d":"2002-12-22","lo":21.1,"hi":22.0},
      {"s":"STR3","d":"2002-12-28","lo":21.6,"hi":22.6},
      {"s":"STR3","d":"2003-01-04","lo":20.5,"hi":21.7},
      {"s":"STR3","d":"2003-01-12","lo":19.8,"hi":21.1},
      {"s":"STR3","d":"2003-01-20","lo":19.4,"hi":20.5},
      {"s":"STR3","d":"2003-01-28","lo":18.6,"hi":19.8},
      {"s":"STR3","d":"2003-02-05","lo":18.8,"hi":20.0},
      {"s":"STR3","d":"2003-02-12","lo":18.9,"hi":20.3},
      {"s":"STR3","d":"2003-02-16","lo":18.6,"hi":20.5},
      {"s":"STR3","d":"2003-02-20","lo":18.9,"hi":20.2},
      {"s":"STR3","d":"2003-02-24","lo":19.0,"hi":21.0},
      {"s":"STR3","d":"2003-02-28","lo":18.9,"hi":20.4},
      {"s":"STR3","d":"2003-03-05","lo":19.3,"hi":20.3},
      {"s":"STR3","d":"2003-03-10","lo":19.3,"hi":20.5},
      {"s":"STR3","d":"2003-03-12","lo":19.3,"hi":21.9},
      {"s":"STR3","d":"2003-03-14","lo":19.5,"hi":20.5},
      {"s":"STR3","d":"2003-03-18","lo":19.6,"hi":20.7},
      {"s":"STR3","d":"2003-03-20","lo":19.5,"hi":21.2},
      {"s":"STR3","d":"2003-03-24","lo":18.9,"hi":20.7},
      {"s":"STR3","d":"2003-03-28","lo":18.3,"hi":19.3},
      {"s":"STR3","d":"2003-04-01","lo":18.1,"hi":19.3},
      {"s":"STR3","d":"2003-04-05","lo":18.9,"hi":20.5},
      {"s":"STR3","d":"2003-04-10","lo":20.7,"hi":23.0},
      {"s":"STR3","d":"2003-04-16","lo":21.4,"hi":23.2},
      {"s":"STR3","d":"2003-04-22","lo":22.0,"hi":23.9},
      {"s":"STR3","d":"2003-04-28","lo":22.0,"hi":23.5},
      {"s":"STR3","d":"2003-05-03","lo":22.0,"hi":23.2},
      {"s":"STR3","d":"2003-05-10","lo":21.1,"hi":22.6},
      {"s":"STR3","d":"2003-05-16","lo":20.7,"hi":22.3},
      {"s":"STR3","d":"2003-05-22","lo":21.4,"hi":23.5},
      {"s":"STR3","d":"2003-05-27","lo":22.2,"hi":23.9},
      {"s":"STR3","d":"2003-05-28","lo":22.3,"hi":25.4},
      {"s":"STR3","d":"2003-05-29","lo":22.3,"hi":23.9},
      {"s":"STR3","d":"2003-06-03","lo":22.6,"hi":24.8},
      {"s":"STR3","d":"2003-06-07","lo":23.4,"hi":25.8},
      {"s":"STR3","d":"2003-06-10","lo":23.9,"hi":26.9},
      {"s":"STR3","d":"2003-06-15","lo":23.9,"hi":28.1},
      {"s":"STR3","d":"2003-06-20","lo":23.5,"hi":27.6},
      {"s":"STR3","d":"2003-06-24","lo":24.0,"hi":28.4},
      {"s":"STR3","d":"2003-06-28","lo":23.5,"hi":27.8},
      {"s":"STR3","d":"2003-07-02","lo":23.2,"hi":27.2},
      {"s":"STR3","d":"2003-07-08","lo":23.5,"hi":26.7},
      {"s":"STR3","d":"2003-07-14","lo":23.9,"hi":28.8},
      {"s":"STR3","d":"2003-07-18","lo":24.2,"hi":26.5},
      {"s":"STR3","d":"2003-07-23","lo":24.4,"hi":25.4}
    ],
    "kur": [
      {"s":"STR1","d":"2002-09-24","lo":25.9,"hi":27.3},
      {"s":"STR1","d":"2002-09-27","lo":25.9,"hi":27.5},
      {"s":"STR1","d":"2002-10-03","lo":24.3,"hi":25.9},
      {"s":"STR1","d":"2002-10-08","lo":24.5,"hi":25.6},
      {"s":"STR1","d":"2002-10-13","lo":24.6,"hi":25.8},
      {"s":"STR1","d":"2002-10-18","lo":24.5,"hi":25.4},
      {"s":"STR1","d":"2002-10-23","lo":24.4,"hi":25.3},
      {"s":"STR1","d":"2002-10-28","lo":24.1,"hi":25.1},
      {"s":"STR1","d":"2002-11-02","lo":23.9,"hi":24.9},
      {"s":"STR1","d":"2002-11-07","lo":23.7,"hi":24.7},
      {"s":"STR1","d":"2002-11-12","lo":23.5,"hi":24.5},
      {"s":"STR1","d":"2002-11-17","lo":23.3,"hi":24.3},
      {"s":"STR1","d":"2002-11-22","lo":23.0,"hi":24.0},
      {"s":"STR1","d":"2002-11-27","lo":22.5,"hi":23.6},
      {"s":"STR1","d":"2002-12-02","lo":21.9,"hi":23.0},
      {"s":"STR1","d":"2002-12-07","lo":22.2,"hi":23.1},
      {"s":"STR1","d":"2002-12-12","lo":22.1,"hi":23.0},
      {"s":"STR1","d":"2002-12-17","lo":22.1,"hi":22.9},
      {"s":"STR1","d":"2002-12-22","lo":21.9,"hi":22.8},
      {"s":"STR1","d":"2002-12-27","lo":22.1,"hi":22.9},
      {"s":"STR1","d":"2003-01-01","lo":22.0,"hi":22.9},
      {"s":"STR1","d":"2003-01-06","lo":21.6,"hi":22.5},
      {"s":"STR1","d":"2003-01-11","lo":21.1,"hi":22.0},
      {"s":"STR1","d":"2003-01-16","lo":20.7,"hi":21.6},
      {"s":"STR1","d":"2003-01-21","lo":20.3,"hi":21.1},
      {"s":"STR1","d":"2003-01-26","lo":19.7,"hi":20.7},
      {"s":"STR1","d":"2003-01-31","lo":19.4,"hi":20.3},
      {"s":"STR1","d":"2003-02-05","lo":19.3,"hi":20.1},
      {"s":"STR1","d":"2003-02-10","lo":19.2,"hi":20.1},
      {"s":"STR1","d":"2003-02-15","lo":19.1,"hi":20.1},
      {"s":"STR1","d":"2003-02-20","lo":19.2,"hi":20.2},
      {"s":"STR1","d":"2003-02-25","lo":19.3,"hi":20.2},
      {"s":"STR1","d":"2003-03-02","lo":19.2,"hi":20.2},
      {"s":"STR1","d":"2003-03-07","lo":19.4,"hi":20.3},
      {"s":"STR1","d":"2003-03-12","lo":19.5,"hi":20.4},
      {"s":"STR1","d":"2003-03-17","lo":19.2,"hi":20.2},
      {"s":"STR1","d":"2003-03-22","lo":19.1,"hi":20.6},
      {"s":"STR1","d":"2003-03-27","lo":18.8,"hi":19.6},
      {"s":"STR1","d":"2003-04-01","lo":18.7,"hi":19.8},
      {"s":"STR1","d":"2003-04-06","lo":18.8,"hi":19.9},
      {"s":"STR1","d":"2003-04-10","lo":19.7,"hi":21.1},
      {"s":"STR1","d":"2003-04-14","lo":21.2,"hi":22.8},
      {"s":"STR1","d":"2003-04-19","lo":21.7,"hi":23.0},
      {"s":"STR1","d":"2003-04-24","lo":21.9,"hi":23.1},
      {"s":"STR1","d":"2003-04-29","lo":21.5,"hi":22.6},
      {"s":"STR1","d":"2003-05-04","lo":20.6,"hi":21.8},
      {"s":"STR1","d":"2003-05-09","lo":21.0,"hi":22.3},
      {"s":"STR1","d":"2003-05-14","lo":21.3,"hi":22.6},
      {"s":"STR1","d":"2003-05-19","lo":21.4,"hi":22.9},
      {"s":"STR1","d":"2003-05-24","lo":21.8,"hi":23.1},
      {"s":"STR1","d":"2003-05-29","lo":22.3,"hi":23.8},
      {"s":"STR1","d":"2003-06-03","lo":22.6,"hi":24.7},
      {"s":"STR1","d":"2003-06-08","lo":22.9,"hi":26.0},
      {"s":"STR1","d":"2003-06-13","lo":23.4,"hi":26.6},
      {"s":"STR1","d":"2003-06-18","lo":23.8,"hi":26.0},
      {"s":"STR1","d":"2003-06-23","lo":24.0,"hi":26.4},
      {"s":"STR1","d":"2003-06-28","lo":24.8,"hi":27.0},
      {"s":"STR1","d":"2003-07-01","lo":25.0,"hi":27.8},
      {"s":"STR1","d":"2003-07-05","lo":25.2,"hi":26.9},
      {"s":"STR1","d":"2003-07-10","lo":24.9,"hi":26.7},
      {"s":"STR1","d":"2003-07-15","lo":24.9,"hi":26.8},
      {"s":"STR1","d":"2003-07-20","lo":25.0,"hi":26.6},
      {"s":"STR1","d":"2003-07-25","lo":24.9,"hi":26.3},
      {"s":"STR1","d":"2003-07-31","lo":25.0,"hi":26.0},
      {"s":"STR2","d":"2002-09-27","lo":25.8,"hi":26.8},
      {"s":"STR2","d":"2002-10-03","lo":25.0,"hi":25.8},
      {"s":"STR2","d":"2002-10-08","lo":24.8,"hi":25.6},
      {"s":"STR2","d":"2002-10-13","lo":24.7,"hi":25.5},
      {"s":"STR2","d":"2002-10-18","lo":24.6,"hi":25.3},
      {"s":"STR2","d":"2002-10-23","lo":24.5,"hi":25.2},
      {"s":"STR2","d":"2002-10-28","lo":24.2,"hi":25.0},
      {"s":"STR2","d":"2002-11-02","lo":24.0,"hi":24.8},
      {"s":"STR2","d":"2002-11-07","lo":23.8,"hi":24.6},
      {"s":"STR2","d":"2002-11-12","lo":23.6,"hi":24.4},
      {"s":"STR2","d":"2002-11-17","lo":23.4,"hi":24.2},
      {"s":"STR2","d":"2002-11-22","lo":23.1,"hi":23.9},
      {"s":"STR2","d":"2002-11-27","lo":22.6,"hi":23.5},
      {"s":"STR2","d":"2002-12-02","lo":22.0,"hi":22.9},
      {"s":"STR2","d":"2002-12-07","lo":22.3,"hi":23.0},
      {"s":"STR2","d":"2002-12-12","lo":22.2,"hi":22.9},
      {"s":"STR2","d":"2002-12-17","lo":22.2,"hi":22.8},
      {"s":"STR2","d":"2002-12-22","lo":22.0,"hi":22.7},
      {"s":"STR2","d":"2002-12-27","lo":22.2,"hi":22.8},
      {"s":"STR2","d":"2003-01-01","lo":22.1,"hi":22.8},
      {"s":"STR2","d":"2003-01-06","lo":21.7,"hi":22.4},
      {"s":"STR2","d":"2003-01-11","lo":21.2,"hi":21.9},
      {"s":"STR2","d":"2003-01-16","lo":20.8,"hi":21.5},
      {"s":"STR2","d":"2003-01-21","lo":20.4,"hi":21.0},
      {"s":"STR2","d":"2003-01-26","lo":19.8,"hi":20.6},
      {"s":"STR2","d":"2003-01-31","lo":19.5,"hi":20.2},
      {"s":"STR2","d":"2003-02-05","lo":19.4,"hi":20.0},
      {"s":"STR2","d":"2003-02-10","lo":19.3,"hi":20.0},
      {"s":"STR2","d":"2003-02-15","lo":19.2,"hi":20.0},
      {"s":"STR2","d":"2003-02-20","lo":19.3,"hi":20.1},
      {"s":"STR2","d":"2003-02-25","lo":19.4,"hi":20.1},
      {"s":"STR2","d":"2003-03-02","lo":19.3,"hi":20.1},
      {"s":"STR2","d":"2003-03-07","lo":19.5,"hi":20.2},
      {"s":"STR2","d":"2003-03-12","lo":19.6,"hi":20.3},
      {"s":"STR2","d":"2003-03-17","lo":19.3,"hi":20.1},
      {"s":"STR2","d":"2003-03-22","lo":19.2,"hi":20.9},
      {"s":"STR2","d":"2003-03-27","lo":18.7,"hi":19.5},
      {"s":"STR2","d":"2003-04-01","lo":18.8,"hi":19.5},
      {"s":"STR2","d":"2003-04-06","lo":18.9,"hi":19.7},
      {"s":"STR2","d":"2003-04-10","lo":19.8,"hi":21.0},
      {"s":"STR2","d":"2003-04-14","lo":21.4,"hi":22.5},
      {"s":"STR2","d":"2003-04-19","lo":21.9,"hi":22.8},
      {"s":"STR2","d":"2003-04-24","lo":22.0,"hi":22.9},
      {"s":"STR2","d":"2003-04-29","lo":21.6,"hi":22.4},
      {"s":"STR2","d":"2003-05-04","lo":20.7,"hi":21.6},
      {"s":"STR2","d":"2003-05-09","lo":21.2,"hi":22.0},
      {"s":"STR2","d":"2003-05-14","lo":21.4,"hi":22.3},
      {"s":"STR2","d":"2003-05-19","lo":21.5,"hi":22.4},
      {"s":"STR2","d":"2003-05-24","lo":21.9,"hi":22.8},
      {"s":"STR2","d":"2003-05-29","lo":22.4,"hi":23.4},
      {"s":"STR2","d":"2003-06-03","lo":22.8,"hi":24.0},
      {"s":"STR2","d":"2003-06-08","lo":23.1,"hi":24.6},
      {"s":"STR2","d":"2003-06-13","lo":23.6,"hi":25.3},
      {"s":"STR2","d":"2003-06-18","lo":24.2,"hi":25.6},
      {"s":"STR2","d":"2003-06-23","lo":24.3,"hi":25.9},
      {"s":"STR2","d":"2003-06-28","lo":25.1,"hi":26.4},
      {"s":"STR2","d":"2003-07-03","lo":25.3,"hi":26.5},
      {"s":"STR2","d":"2003-07-08","lo":25.1,"hi":26.2},
      {"s":"STR2","d":"2003-07-13","lo":25.0,"hi":26.4},
      {"s":"STR2","d":"2003-07-18","lo":25.2,"hi":26.3},
      {"s":"STR2","d":"2003-07-23","lo":25.0,"hi":26.1},
      {"s":"STR2","d":"2003-07-28","lo":25.0,"hi":25.9},
      {"s":"STR2","d":"2003-07-31","lo":25.1,"hi":25.8}
    ]
  },
  "vconcat": [
    {
      "width": 1048, "height": 131,
      "title": {"text": "French Frigate Shoals"},
      "data": {"name": "ffs"},
      "resolve": {"axis": {"x": "independent", "y": "independent"}},
      "layer": [
        {
          "transform": [{"filter": "datum.s === 'STR1'"}],
          "mark": {"type": "area", "clip": true},
          "encoding": {
            "x": {"field": "d", "type": "temporal", "scale": {"type": "utc", "domain": [{"year": 2002, "month": 9, "date": 1, "utc": true}, {"year": 2003, "month": 8, "date": 1, "utc": true}]}, "axis": {"tickCount": {"interval": "month", "step": 1}, "labelExpr": "utcFormat(datum.value, '%b')", "grid": true, "title": null}},
            "y": {"field": "lo", "type": "quantitative", "scale": {"domain": [17.9, 30], "nice": false, "zero": false}, "axis": {"values": [20, 25, 30], "grid": true, "title": "°C"}},
            "y2": {"field": "hi"},
            "color": {"field": "s", "type": "nominal", "scale": {"domain": ["STR1", "STR2"], "range": ["#0000ff", "#ff0000"]}, "legend": {"legendX": 30, "legendY": 65, "clipHeight": 20, "padding": 4}}
          }
        },
        {
          "transform": [{"filter": "datum.s === 'STR2'"}],
          "mark": {"type": "area", "clip": true},
          "encoding": {
            "x": {"field": "d", "type": "temporal", "axis": null},
            "y": {"field": "lo", "type": "quantitative", "axis": null},
            "y2": {"field": "hi"},
            "color": {"field": "s", "type": "nominal", "legend": null}
          }
        },
        {
          "mark": {"type": "point", "opacity": 0},
          "encoding": {
            "x": {"field": "d", "type": "temporal", "axis": {"orient": "top", "labels": false, "grid": false, "title": null, "tickCount": {"interval": "month", "step": 1}}},
            "y": {"field": "lo", "type": "quantitative", "axis": {"orient": "right", "labels": false, "grid": false, "title": null, "values": [20, 25, 30]}}
          }
        }
      ]
    },
    {
      "width": 1048, "height": 131,
      "title": {"text": "Maro and Lisianski"},
      "data": {"name": "mal"},
      "resolve": {"axis": {"x": "independent", "y": "independent"}},
      "layer": [
        {
          "transform": [{"filter": "datum.s === 'Maro'"}],
          "mark": {"type": "area", "clip": true},
          "encoding": {
            "x": {"field": "d", "type": "temporal", "scale": {"type": "utc", "domain": [{"year": 2002, "month": 9, "date": 1, "utc": true}, {"year": 2003, "month": 8, "date": 1, "utc": true}]}, "axis": {"tickCount": {"interval": "month", "step": 1}, "labelExpr": "utcFormat(datum.value, '%b')", "grid": true, "title": null}},
            "y": {"field": "lo", "type": "quantitative", "scale": {"domain": [17.9, 30], "nice": false, "zero": false}, "axis": {"values": [20, 25, 30], "grid": true, "title": "°C"}},
            "y2": {"field": "hi"},
            "color": {"field": "s", "type": "nominal", "scale": {"domain": ["Maro", "Lisianski"], "range": ["#0000ff", "#ff0000"]}, "legend": {"legendX": 17, "legendY": 66, "clipHeight": 21, "padding": 9}}
          }
        },
        {
          "transform": [{"filter": "datum.s === 'Lisianski'"}],
          "mark": {"type": "area", "clip": true},
          "encoding": {
            "x": {"field": "d", "type": "temporal", "axis": null},
            "y": {"field": "lo", "type": "quantitative", "axis": null},
            "y2": {"field": "hi"},
            "color": {"field": "s", "type": "nominal", "legend": null}
          }
        },
        {
          "mark": {"type": "point", "opacity": 0},
          "encoding": {
            "x": {"field": "d", "type": "temporal", "axis": {"orient": "top", "labels": false, "grid": false, "title": null, "tickCount": {"interval": "month", "step": 1}}},
            "y": {"field": "lo", "type": "quantitative", "axis": {"orient": "right", "labels": false, "grid": false, "title": null, "values": [20, 25, 30]}}
          }
        }
      ]
    },
    {
      "width": 1048, "height": 131,
      "title": {"text": "Pearl & Hermes"},
      "data": {"name": "ph"},
      "resolve": {"axis": {"x": "independent", "y": "independent"}},
      "layer": [
        {
          "transform": [{"filter": "datum.s === 'STR1'"}],
          "mark": {"type": "area", "clip": true},
          "encoding": {
            "x": {"field": "d", "type": "temporal", "scale": {"type": "utc", "domain": [{"year": 2002, "month": 9, "date": 1, "utc": true}, {"year": 2003, "month": 8, "date": 1, "utc": true}]}, "axis": {"tickCount": {"interval": "month", "step": 1}, "labelExpr": "utcFormat(datum.value, '%b')", "grid": true, "title": null}},
            "y": {"field": "lo", "type": "quantitative", "scale": {"domain": [17.9, 30], "nice": false, "zero": false}, "axis": {"values": [20, 25, 30], "grid": true, "title": "°C"}},
            "y2": {"field": "hi"},
            "color": {"field": "s", "type": "nominal", "scale": {"domain": ["STR1", "STR2", "STR3"], "range": ["#0000ff", "#ff0000", "#00ff00"]}, "legend": {"legendX": 3, "legendY": 52, "clipHeight": 22, "padding": 5}}
          }
        },
        {
          "transform": [{"filter": "datum.s === 'STR2'"}],
          "mark": {"type": "area", "clip": true},
          "encoding": {
            "x": {"field": "d", "type": "temporal", "axis": null},
            "y": {"field": "lo", "type": "quantitative", "axis": null},
            "y2": {"field": "hi"},
            "color": {"field": "s", "type": "nominal", "legend": null}
          }
        },
        {
          "transform": [{"filter": "datum.s === 'STR3'"}],
          "mark": {"type": "area", "clip": true},
          "encoding": {
            "x": {"field": "d", "type": "temporal", "axis": null},
            "y": {"field": "lo", "type": "quantitative", "axis": null},
            "y2": {"field": "hi"},
            "color": {"field": "s", "type": "nominal", "legend": null}
          }
        },
        {
          "mark": {"type": "point", "opacity": 0},
          "encoding": {
            "x": {"field": "d", "type": "temporal", "axis": {"orient": "top", "labels": false, "grid": false, "title": null, "tickCount": {"interval": "month", "step": 1}}},
            "y": {"field": "lo", "type": "quantitative", "axis": {"orient": "right", "labels": false, "grid": false, "title": null, "values": [20, 25, 30]}}
          }
        }
      ]
    },
    {
      "width": 1048, "height": 131,
      "title": {"text": "Midway"},
      "data": {"name": "mid"},
      "resolve": {"axis": {"x": "independent", "y": "independent"}},
      "layer": [
        {
          "transform": [{"filter": "datum.s === 'STR1'"}],
          "mark": {"type": "area", "clip": true},
          "encoding": {
            "x": {"field": "d", "type": "temporal", "scale": {"type": "utc", "domain": [{"year": 2002, "month": 9, "date": 1, "utc": true}, {"year": 2003, "month": 8, "date": 1, "utc": true}]}, "axis": {"tickCount": {"interval": "month", "step": 1}, "labelExpr": "utcFormat(datum.value, '%b')", "grid": true, "title": null}},
            "y": {"field": "lo", "type": "quantitative", "scale": {"domain": [17.9, 30], "nice": false, "zero": false}, "axis": {"values": [20, 25, 30], "grid": true, "title": "°C"}},
            "y2": {"field": "hi"},
            "color": {"field": "s", "type": "nominal", "scale": {"domain": ["STR1", "STR2", "STR3"], "range": ["#0000ff", "#ff0000", "#00ff00"]}, "legend": {"legendX": 5, "legendY": 56, "clipHeight": 21, "padding": 6}}
          }
        },
        {
          "transform": [{"filter": "datum.s === 'STR2'"}],
          "mark": {"type": "area", "clip": true},
          "encoding": {
            "x": {"field": "d", "type": "temporal", "axis": null},
            "y": {"field": "lo", "type": "quantitative", "axis": null},
            "y2": {"field": "hi"},
            "color": {"field": "s", "type": "nominal", "legend": null}
          }
        },
        {
          "transform": [{"filter": "datum.s === 'STR3'"}],
          "mark": {"type": "area", "clip": true},
          "encoding": {
            "x": {"field": "d", "type": "temporal", "axis": null},
            "y": {"field": "lo", "type": "quantitative", "axis": null},
            "y2": {"field": "hi"},
            "color": {"field": "s", "type": "nominal", "legend": null}
          }
        },
        {
          "mark": {"type": "point", "opacity": 0},
          "encoding": {
            "x": {"field": "d", "type": "temporal", "axis": {"orient": "top", "labels": false, "grid": false, "title": null, "tickCount": {"interval": "month", "step": 1}}},
            "y": {"field": "lo", "type": "quantitative", "axis": {"orient": "right", "labels": false, "grid": false, "title": null, "values": [20, 25, 30]}}
          }
        }
      ]
    },
    {
      "width": 1048, "height": 131,
      "title": {"text": "Kure"},
      "data": {"name": "kur"},
      "resolve": {"axis": {"x": "independent", "y": "independent"}},
      "layer": [
        {
          "transform": [{"filter": "datum.s === 'STR1'"}],
          "mark": {"type": "area", "clip": true},
          "encoding": {
            "x": {"field": "d", "type": "temporal", "scale": {"type": "utc", "domain": [{"year": 2002, "month": 9, "date": 1, "utc": true}, {"year": 2003, "month": 8, "date": 1, "utc": true}]}, "axis": {"tickCount": {"interval": "month", "step": 1}, "labelExpr": "utcmonth(datum.value) == 8 ? ['Sep', '2002'] : utcmonth(datum.value) == 0 ? ['Jan', '2003'] : utcFormat(datum.value, '%b')", "labelLineHeight": 25, "labelBaseline": "top", "grid": true, "title": null}},
            "y": {"field": "lo", "type": "quantitative", "scale": {"domain": [17.9, 30], "nice": false, "zero": false}, "axis": {"values": [20, 25, 30], "grid": true, "title": "°C"}},
            "y2": {"field": "hi"},
            "color": {"field": "s", "type": "nominal", "scale": {"domain": ["STR1", "STR2"], "range": ["#0000ff", "#ff0000"]}, "legend": {"legendX": 11, "legendY": 68, "clipHeight": 22, "padding": 9}}
          }
        },
        {
          "transform": [{"filter": "datum.s === 'STR2'"}],
          "mark": {"type": "area", "clip": true},
          "encoding": {
            "x": {"field": "d", "type": "temporal", "axis": null},
            "y": {"field": "lo", "type": "quantitative", "axis": null},
            "y2": {"field": "hi"},
            "color": {"field": "s", "type": "nominal", "legend": null}
          }
        },
        {
          "mark": {"type": "point", "opacity": 0},
          "encoding": {
            "x": {"field": "d", "type": "temporal", "axis": {"orient": "top", "labels": false, "grid": false, "title": null, "tickCount": {"interval": "month", "step": 1}}},
            "y": {"field": "lo", "type": "quantitative", "axis": {"orient": "right", "labels": false, "grid": false, "title": null, "values": [20, 25, 30]}}
          }
        }
      ]
    }
  ],
  "config": {
    "font": "Liberation Sans",
    "view": {"stroke": "#000000", "strokeWidth": 1.5},
    "axis": {
      "domain": false,
      "tickSize": -6,
      "tickWidth": 1.5,
      "tickColor": "#000000",
      "labelFont": "Liberation Sans",
      "labelFontSize": 21,
      "labelColor": "#000000",
      "labelPadding": 12,
      "labelOverlap": false,
      "labelFlush": false,
      "titleFont": "Liberation Sans",
      "titleFontSize": 20,
      "titleFontWeight": "normal",
      "titleColor": "#000000",
      "titlePadding": 17,
      "gridColor": "#000000",
      "gridOpacity": 0.9,
      "gridDash": [4, 3, 1, 3],
      "gridWidth": 1
    },
    "title": {"font": "Liberation Sans", "fontSize": 23, "fontWeight": "normal", "color": "#000000", "offset": -43, "anchor": "middle"},
    "legend": {
      "orient": "none",
      "title": null,
      "symbolType": "M-1,-0.05H1V0.05H-1Z",
      "symbolSize": 1089,
      "symbolStrokeWidth": 0,
      "symbolOffset": 4,
      "labelFont": "Liberation Sans",
      "labelFontSize": 18,
      "labelColor": "#000000",
      "labelOffset": 10,
      "padding": 6,
      "rowPadding": 0,
      "strokeColor": "#000000",
      "fillColor": "#ffffff",
      "strokeWidth": 1.5,
      "cornerRadius": 0
    }
  }
}
